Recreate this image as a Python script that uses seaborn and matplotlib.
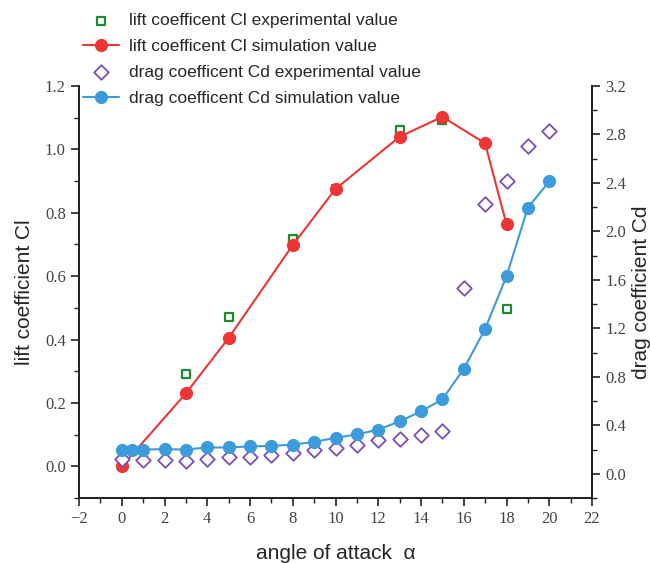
import matplotlib
matplotlib.use("Agg")
import matplotlib.pyplot as plt
from matplotlib.ticker import MultipleLocator, FixedLocator
import seaborn as sns
import pandas as pd

# ---- data ----
cl_sim_x = [0, 3, 5, 8, 10, 13, 15, 17, 18]
cl_sim_y = [0.0, 0.23, 0.405, 0.698, 0.875, 1.04, 1.103, 1.019, 0.763]

cl_exp_x = [0, 3, 5, 8, 10, 13, 15, 18]
cl_exp_y = [0.0, 0.29, 0.47, 0.717, 0.875, 1.061, 1.093, 0.496]

cd_sim_x = [0, 0.5, 1, 2, 3, 4, 5, 6, 7, 8, 9, 10, 11, 12, 13, 14, 15, 16, 17, 18, 19, 20]
cd_sim_y = [0.198, 0.2, 0.2, 0.203, 0.2, 0.217, 0.217, 0.226, 0.23, 0.24, 0.263, 0.297,
            0.325, 0.364, 0.432, 0.515, 0.614, 0.865, 1.196, 1.63, 2.196, 2.413]

cd_exp_x = list(range(0, 21))
cd_exp_y = [0.121, 0.113, 0.116, 0.105, 0.118, 0.135, 0.135, 0.155, 0.171, 0.197, 0.215,
            0.237, 0.275, 0.289, 0.32, 0.355, 1.535, 2.23, 2.42, 2.705, 2.83]

left_ticks = [0.0, 0.2, 0.4, 0.6, 0.8, 1.0, 1.2]
right_ticks = [0.0, 0.4, 0.8, 1.2, 1.6, 2.0, 2.4, 2.8, 3.2]
x_ticks = [-2, 0, 2, 4, 6, 8, 10, 12, 14, 16, 18, 20, 22]

labels = ["lift coefficent Cl experimental value",
          "lift coefficent Cl simulation value",
          "drag coefficent Cd experimental value",
          "drag coefficent Cd simulation value"]

RED = "#EE3535"
BLUE = "#3C9BDA"
GREEN = "#1E8C2E"
PURPLE = "#7B4DB8"

sns.set_style("ticks")
plt.rcParams["font.family"] = ["Liberation Sans", "DejaVu Sans"]

fig = plt.figure(figsize=(6.5, 5.63), dpi=100)
ax = fig.add_axes([79/650, 1 - 498/563, (592-79)/650, (498-86)/563])
ax2 = ax.twinx()

df_cl_exp = pd.DataFrame({"x": cl_exp_x, "y": cl_exp_y})
df_cl_sim = pd.DataFrame({"x": cl_sim_x, "y": cl_sim_y})
df_cd_exp = pd.DataFrame({"x": cd_exp_x, "y": cd_exp_y})
df_cd_sim = pd.DataFrame({"x": cd_sim_x, "y": cd_sim_y})

sns.scatterplot(data=df_cl_exp, x="x", y="y", ax=ax, marker="s", s=40,
                facecolor="white", edgecolor=GREEN, linewidth=1.6, zorder=2,
                label=labels[0])
sns.lineplot(data=df_cl_sim, x="x", y="y", ax=ax, color=RED, linewidth=1.5,
             marker="o", markersize=9.5, markeredgewidth=0, zorder=3,
             label=labels[1])
sns.scatterplot(data=df_cd_exp, x="x", y="y", ax=ax2, marker="D", s=55,
                facecolor="white", edgecolor=PURPLE, linewidth=1.3, zorder=2,
                label=labels[2])
sns.lineplot(data=df_cd_sim, x="x", y="y", ax=ax2, color=BLUE, linewidth=1.5,
             marker="o", markersize=9.5, markeredgewidth=0, zorder=3,
             label=labels[3])

h1, l1 = ax.get_legend_handles_labels()
h2, l2 = ax2.get_legend_handles_labels()
for a in (ax, ax2):
    if a.get_legend() is not None:
        a.get_legend().remove()

ax.set_xlim(-2, 22)
ax.set_ylim(-0.1, 1.2)
ax2.set_ylim(-0.2, 3.2)

ax.xaxis.set_major_locator(FixedLocator(x_ticks))
ax.xaxis.set_minor_locator(MultipleLocator(1))
ax.yaxis.set_major_locator(FixedLocator(left_ticks))
ax.yaxis.set_minor_locator(MultipleLocator(0.1))
ax2.yaxis.set_major_locator(FixedLocator(right_ticks))
ax2.yaxis.set_minor_locator(MultipleLocator(0.2))

serif = ["Liberation Serif", "DejaVu Serif"]
ax.set_xticklabels([f"{t}".replace("-", "\u2212") for t in x_ticks], family=serif, fontsize=12)
ax.set_yticklabels([f"{t:.1f}" for t in left_ticks], family=serif, fontsize=12)
ax2.set_yticklabels([f"{t:.1f}" for t in right_ticks], family=serif, fontsize=12)

for a in (ax, ax2):
    a.spines["top"].set_visible(False)
    for s in a.spines.values():
        s.set_linewidth(1.3)
        s.set_color("#222222")
    a.tick_params(which="major", length=6, width=1.2, direction="out", colors="#222222")
    a.tick_params(which="minor", length=3.5, width=1.0, direction="out", colors="#222222")
    a.tick_params(labelcolor="#444444")

ax.set_xlabel("angle of attack  α", fontsize=15, labelpad=12)
ax.set_ylabel("lift coefficient Cl", fontsize=15, labelpad=8)
ax2.set_ylabel("drag coefficient Cd", fontsize=15, labelpad=4)

fig.legend(h1 + h2, l1 + l2, loc="upper left", bbox_to_anchor=(76/650, 1 - 6/563),
           frameon=False, fontsize=12.5, handlelength=2.1, labelspacing=0.62,
           handletextpad=0.55, borderaxespad=0)

fig.savefig("out.png", dpi=100)
